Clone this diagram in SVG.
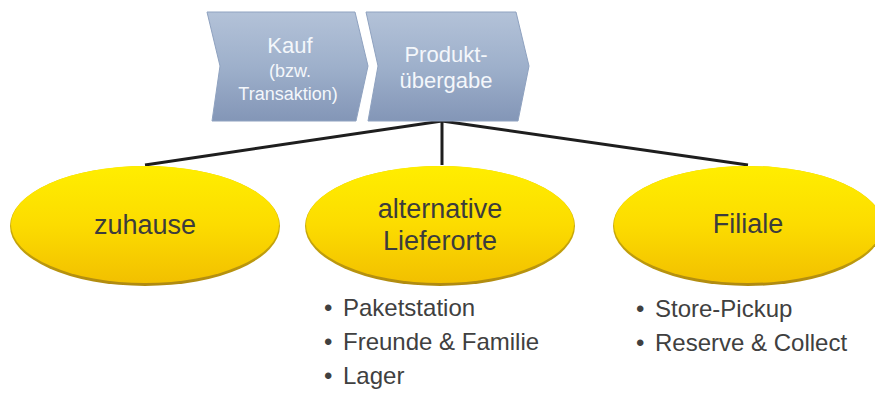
<svg xmlns="http://www.w3.org/2000/svg" width="875" height="394" viewBox="0 0 875 394">
<defs>
<linearGradient id="gChev" x1="0" y1="0" x2="0" y2="1">
<stop offset="0" stop-color="#b3c2d8"/>
<stop offset="0.5" stop-color="#9eb0cb"/>
<stop offset="1" stop-color="#8396b7"/>
</linearGradient>
<linearGradient id="gEll" x1="0" y1="0" x2="0" y2="1">
<stop offset="0" stop-color="#ffee00"/>
<stop offset="0.5" stop-color="#fcdc00"/>
<stop offset="1" stop-color="#f2c000"/>
</linearGradient>
<linearGradient id="gRim" x1="0" y1="0" x2="0" y2="1">
<stop offset="0" stop-color="#e8d000"/>
<stop offset="1" stop-color="#b08a10"/>
</linearGradient>
</defs>
<style>
.chev{fill:url(#gChev);stroke:#8fa2c0;stroke-width:1}
.ct{font-family:"Liberation Sans",Arial,sans-serif;fill:#f4f7fb;text-anchor:middle}
.rim{fill:url(#gRim)}
.ell{fill:url(#gEll)}
.et{font-family:"Liberation Sans",Arial,sans-serif;font-size:27px;fill:#3c3c3c;text-anchor:middle}
.bt{font-family:"Liberation Sans",Arial,sans-serif;font-size:24px;fill:#404040}
.conn{stroke:#1e1e1e;stroke-width:3;fill:none}
</style>
<g id="connectors">
<line class="conn" x1="442" y1="121" x2="145" y2="165"/>
<line class="conn" x1="442" y1="121" x2="442" y2="165"/>
<line class="conn" x1="442" y1="121" x2="748" y2="165"/>
</g>
<g id="kauf">
<path class="chev" d="M207,12 L355,12 L368,66 L356,121 L212,121 L220,66 Z"/>
<text class="ct" x="290" y="53" font-size="22">Kauf</text>
<text class="ct" x="290" y="77" font-size="18">(bzw.</text>
<text class="ct" x="288" y="100" font-size="18">Transaktion)</text>
</g>
<g id="produktuebergabe">
<path class="chev" d="M366,12 L516,12 L529,66 L518,121 L368,121 L378,66 Z"/>
<text class="ct" x="446" y="62" font-size="22">Produkt-</text>
<text class="ct" x="446" y="88" font-size="22">übergabe</text>
</g>
<g id="zuhause">
<ellipse class="rim" cx="145" cy="226" rx="135" ry="60"/>
<ellipse class="ell" cx="145" cy="224.5" rx="134" ry="58.5"/>
<text class="et" x="145" y="234">zuhause</text>
</g>
<g id="alternative">
<ellipse class="rim" cx="440" cy="226" rx="135" ry="60"/>
<ellipse class="ell" cx="440" cy="224.5" rx="134" ry="58.5"/>
<text class="et" x="440" y="218">alternative</text>
<text class="et" x="440" y="250">Lieferorte</text>
</g>
<g id="filiale">
<ellipse class="rim" cx="748" cy="226" rx="135" ry="60"/>
<ellipse class="ell" cx="748" cy="224.5" rx="134" ry="58.5"/>
<text class="et" x="748" y="233">Filiale</text>
</g>
<g id="bullets-alternative">
<text class="bt" x="324" y="316">•</text><text class="bt" x="343" y="316">Paketstation</text>
<text class="bt" x="324" y="350">•</text><text class="bt" x="343" y="350">Freunde &amp; Familie</text>
<text class="bt" x="324" y="384">•</text><text class="bt" x="343" y="384">Lager</text>
</g>
<g id="bullets-filiale">
<text class="bt" x="636" y="317">•</text><text class="bt" x="655" y="317">Store-Pickup</text>
<text class="bt" x="636" y="351">•</text><text class="bt" x="655" y="351">Reserve &amp; Collect</text>
</g>
</svg>
